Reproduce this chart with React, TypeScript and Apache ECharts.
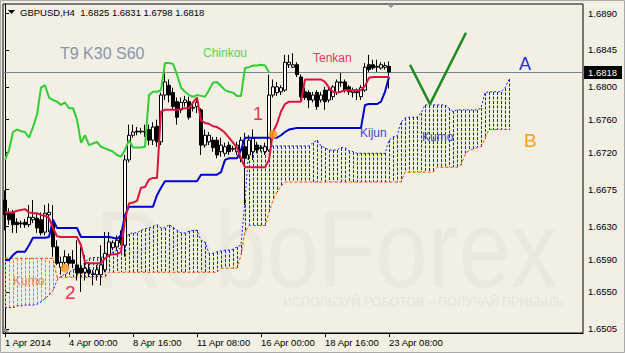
import React, { useEffect, useRef } from "react";
import * as echarts from "echarts";

const headerText = "GBPUSD,H4  1.6825 1.6831 1.6798 1.6818";
const tickLabels = ["1 Apr 2014", "4 Apr 00:00", "8 Apr 16:00", "11 Apr 08:00", "16 Apr 00:00", "18 Apr 16:00", "23 Apr 08:00"];
const tickBars = [0, 16, 32, 48, 64, 80, 96];
const priceTicks = [1.6505, 1.655, 1.659, 1.663, 1.6675, 1.672, 1.676, 1.68, 1.6845, 1.689];
const lastPrice = 1.6818;
const slotCount = 145;

const opens = [
  1.6662, 1.6647, 1.6646, 1.6635, 1.6634, 1.6635, 1.6632, 1.6638, 1.664, 1.6638,
  1.6623, 1.6644, 1.6635, 1.6605, 1.658, 1.6586, 1.6593, 1.6589, 1.6583, 1.6579,
  1.6574, 1.6577, 1.6571, 1.6571, 1.6571, 1.6577, 1.6595, 1.6604, 1.6605, 1.6617,
  1.6607, 1.6711, 1.6741, 1.6746, 1.6745, 1.6745, 1.6748, 1.6735, 1.6752, 1.6733,
  1.679, 1.6802, 1.6793, 1.6782, 1.6772, 1.6781, 1.6782, 1.6774, 1.6776, 1.6772,
  1.6729, 1.6733, 1.6735, 1.6735, 1.6721, 1.6719, 1.6729, 1.6724, 1.6721, 1.6713,
  1.6727, 1.6717, 1.6721, 1.6729, 1.6726, 1.6721, 1.6723, 1.679, 1.6793, 1.6794,
  1.6796, 1.6827, 1.6824, 1.6827, 1.6812, 1.6794, 1.6793, 1.6784, 1.6793, 1.6784,
  1.6796, 1.6784, 1.6788, 1.6793, 1.6806, 1.6806, 1.68, 1.6793, 1.6794, 1.6788,
  1.6796, 1.6827, 1.6827, 1.6824, 1.6823, 1.6824, 1.6825,
];
const closes = [
  1.6644, 1.6638, 1.6632, 1.6632, 1.6633, 1.6632, 1.6641, 1.6641, 1.6628, 1.6622,
  1.6646, 1.6647, 1.6605, 1.6585, 1.6586, 1.6593, 1.6585, 1.6585, 1.6573, 1.6573,
  1.6579, 1.6573, 1.6572, 1.6577, 1.6583, 1.6597, 1.6611, 1.661, 1.6613, 1.661,
  1.6711, 1.6741, 1.6745, 1.6745, 1.6746, 1.6746, 1.6735, 1.6751, 1.6733, 1.679,
  1.6806, 1.679, 1.6776, 1.6763, 1.6781, 1.6784, 1.6763, 1.6775, 1.6781, 1.6729,
  1.6741, 1.6741, 1.6726, 1.6717, 1.6729, 1.6727, 1.6721, 1.6725, 1.6729, 1.6735,
  1.6713, 1.6735, 1.6737, 1.6723, 1.6725, 1.6727, 1.679, 1.68, 1.68, 1.6799,
  1.683, 1.683, 1.6827, 1.6815, 1.6788, 1.6787, 1.6784, 1.679, 1.6776, 1.679,
  1.6782, 1.6796, 1.68, 1.6806, 1.6805, 1.6796, 1.6794, 1.6795, 1.6793, 1.6799,
  1.6824, 1.6821, 1.6823, 1.6825, 1.6827, 1.6826, 1.6818,
];
const highs = [
  1.6674, 1.6652, 1.665, 1.664, 1.6637, 1.6639, 1.6656, 1.6662, 1.6646, 1.6647,
  1.6656, 1.6658, 1.6656, 1.6613, 1.6593, 1.6601, 1.6597, 1.6601, 1.6613, 1.6605,
  1.6595, 1.6586, 1.6577, 1.6583, 1.6607, 1.6623, 1.6623, 1.6613, 1.6619, 1.6625,
  1.6717, 1.6754, 1.6754, 1.6751, 1.675, 1.6754, 1.6754, 1.6757, 1.676, 1.6793,
  1.6817, 1.6809, 1.6799, 1.6787, 1.6787, 1.6789, 1.6788, 1.6779, 1.6787, 1.6774,
  1.6748, 1.6745, 1.6739, 1.6739, 1.6738, 1.6732, 1.6733, 1.6728, 1.6733, 1.6739,
  1.6744, 1.6741, 1.6748, 1.6733, 1.6729, 1.6732, 1.6815, 1.6809, 1.6806, 1.6802,
  1.6839, 1.6839, 1.6841, 1.683, 1.6815, 1.6799, 1.6796, 1.6794, 1.6796, 1.6794,
  1.68, 1.6799, 1.6802, 1.6809, 1.6817, 1.6809, 1.6802, 1.6799, 1.6798, 1.6802,
  1.6829, 1.6839, 1.6833, 1.6833, 1.683, 1.683, 1.6831,
];
const lows = [
  1.6625, 1.6632, 1.6622, 1.6622, 1.6628, 1.6628, 1.6629, 1.6634, 1.6622, 1.6619,
  1.6619, 1.6623, 1.6593, 1.6583, 1.6571, 1.6583, 1.658, 1.6579, 1.6564, 1.655,
  1.6564, 1.6568, 1.6558, 1.6564, 1.6558, 1.6574, 1.6593, 1.6601, 1.6601, 1.6607,
  1.6593, 1.6708, 1.6738, 1.6741, 1.6743, 1.6739, 1.6729, 1.6729, 1.6727, 1.6729,
  1.6784, 1.6781, 1.6772, 1.6754, 1.6768, 1.6776, 1.676, 1.677, 1.6768, 1.6717,
  1.6726, 1.6729, 1.6721, 1.6713, 1.6715, 1.6715, 1.6717, 1.6721, 1.6717, 1.6708,
  1.6656, 1.6711, 1.6711, 1.6719, 1.6721, 1.6717, 1.6721, 1.6787, 1.6789, 1.679,
  1.6794, 1.6823, 1.6823, 1.6812, 1.6784, 1.6784, 1.6774, 1.6781, 1.6772, 1.6781,
  1.6772, 1.6781, 1.6784, 1.679, 1.68, 1.6793, 1.679, 1.6787, 1.6784, 1.6784,
  1.6794, 1.6818, 1.6821, 1.6818, 1.6821, 1.6821, 1.6798,
];

const tenkan = [
  1.6647, 1.6647, 1.6647, 1.6649, 1.665, 1.6651, 1.6647, 1.6646, 1.6646, 1.6644,
  1.6643, 1.664, 1.6628, 1.6618, 1.6617, 1.6617, 1.6617, 1.6617, 1.6617, 1.6607,
  1.6586, 1.6585, 1.6585, 1.6585, 1.6585, 1.6591, 1.6595, 1.6596, 1.6596, 1.6599,
  1.6638, 1.6658, 1.6659, 1.6661, 1.6677, 1.6678, 1.6687, 1.6689, 1.6689, 1.677,
  1.6772, 1.6772, 1.6772, 1.6772, 1.6773, 1.6774, 1.6774, 1.6781, 1.6787, 1.6759,
  1.6756, 1.6755, 1.6752, 1.6751, 1.6748, 1.6744, 1.6738, 1.6732, 1.6726, 1.6713,
  1.6702, 1.6702, 1.6702, 1.6702, 1.6702, 1.6702, 1.6711, 1.6745, 1.6755, 1.677,
  1.6779, 1.6782, 1.6782, 1.6782, 1.6782, 1.6809, 1.6809, 1.6809, 1.6809, 1.6809,
  1.6806, 1.6799, 1.6794, 1.6793, 1.6794, 1.6796, 1.6796, 1.6796, 1.6796, 1.6796,
  1.6801, 1.6811, 1.6812, 1.6812, 1.6812, 1.6812, 1.6812,
];
const kijun = [
  1.6589, 1.6589, 1.6595, 1.6599, 1.6599, 1.6599, 1.6607, 1.6616, 1.6616, 1.6616,
  1.6616, 1.6617, 1.6638, 1.6628, 1.6628, 1.6628, 1.6628, 1.6628, 1.6628, 1.6617,
  1.6617, 1.6617, 1.6617, 1.6617, 1.6617, 1.6617, 1.6617, 1.6616, 1.6615, 1.6619,
  1.6644, 1.6654, 1.6654, 1.6654, 1.6654, 1.6654, 1.6654, 1.6654, 1.6668, 1.6677,
  1.6685, 1.6685, 1.6685, 1.6685, 1.6685, 1.6685, 1.6685, 1.6685, 1.6685, 1.6693,
  1.6693, 1.6693, 1.6693, 1.6693, 1.6696, 1.6711, 1.6713, 1.6713, 1.6713, 1.6723,
  1.6738, 1.6738, 1.6738, 1.6738, 1.6738, 1.6738, 1.6738, 1.6738, 1.6738, 1.6741,
  1.6745, 1.6748, 1.6749, 1.675, 1.675, 1.675, 1.675, 1.675, 1.675, 1.675,
  1.675, 1.675, 1.675, 1.675, 1.675, 1.675, 1.675, 1.675, 1.675, 1.675,
  1.6778, 1.6779, 1.6779, 1.6779, 1.6782, 1.6794, 1.6812,
];
const chinkou = [
  1.6711, 1.6723, 1.6745, 1.6748, 1.6746, 1.6745, 1.6738, 1.6751, 1.6766, 1.6799,
  1.6802, 1.6787, 1.6784, 1.6782, 1.6778, 1.6781, 1.6774, 1.6774, 1.676, 1.6732,
  1.6741, 1.6729, 1.6731, 1.6733, 1.6727, 1.6725, 1.6723, 1.6721, 1.6717, 1.6715,
  1.6723, 1.6735, 1.6726, 1.6726, 1.6726, 1.6727, 1.679, 1.6794, 1.6794, 1.6796,
  1.6829, 1.6829, 1.6828, 1.6815, 1.6799, 1.6794, 1.679, 1.6788, 1.679, 1.6789,
  1.6788, 1.6796, 1.6805, 1.6806, 1.6801, 1.6796, 1.6794, 1.6793, 1.6789, 1.6789,
  1.6823, 1.6824, 1.6826, 1.6826, 1.6827, 1.6826, 1.6818,
];
const senkouA = [
  1.6531, 1.6531, 1.6531, 1.6533, 1.6533, 1.6534, 1.6534, 1.6534, 1.6535, 1.6538,
  1.6542, 1.6546, 1.6552, 1.6564, 1.6569, 1.6572, 1.6574, 1.6577, 1.6579, 1.6582,
  1.6586, 1.6591, 1.6592, 1.6592, 1.6592, 1.6594, 1.6595, 1.6599, 1.6601, 1.6604,
  1.6613, 1.6621, 1.6622, 1.6622, 1.6625, 1.6627, 1.6628, 1.663, 1.6632, 1.6628,
  1.6628, 1.6632, 1.6629, 1.6625, 1.6622, 1.6622, 1.6624, 1.6625, 1.6625, 1.6613,
  1.6611, 1.6597, 1.6597, 1.6599, 1.66, 1.6601, 1.6601, 1.6602, 1.6605, 1.6607,
  1.6662, 1.6727, 1.6728, 1.6728, 1.6728, 1.6728, 1.6728, 1.6728, 1.6728, 1.6728,
  1.6728, 1.6728, 1.6728, 1.6728, 1.6728, 1.6728, 1.6728, 1.6732, 1.6735, 1.6728,
  1.6726, 1.6723, 1.6723, 1.6723, 1.6726, 1.6726, 1.6722, 1.6721, 1.6719, 1.6719,
  1.6719, 1.6719, 1.6719, 1.6719, 1.6719, 1.6719, 1.6735, 1.6739, 1.674, 1.6757,
  1.6762, 1.6763, 1.6763, 1.6763, 1.6768, 1.6778, 1.6778, 1.6778, 1.6778, 1.6778,
  1.6778, 1.6774, 1.677, 1.6772, 1.6772, 1.6772, 1.6772, 1.6772, 1.6772, 1.6774,
  1.6793, 1.6794, 1.6794, 1.6794, 1.6794, 1.6799, 1.6809,
];
const senkouB = [
  1.6591, 1.6591, 1.6591, 1.6591, 1.6591, 1.6591, 1.6591, 1.6591, 1.6591, 1.6591,
  1.6591, 1.6591, 1.6591, 1.6568, 1.6568, 1.6568, 1.6568, 1.6568, 1.6568, 1.6568,
  1.6568, 1.6568, 1.6568, 1.6568, 1.6568, 1.6568, 1.6574, 1.6574, 1.6574, 1.6574,
  1.6574, 1.6574, 1.6574, 1.6574, 1.6574, 1.6574, 1.6574, 1.6574, 1.6574, 1.6574,
  1.6574, 1.6574, 1.6574, 1.6574, 1.6574, 1.6574, 1.6574, 1.6574, 1.6574, 1.6574,
  1.6574, 1.6574, 1.6574, 1.6574, 1.6579, 1.6579, 1.6579, 1.6579, 1.6579, 1.6595,
  1.6623, 1.6631, 1.6631, 1.6631, 1.6631, 1.6631, 1.6647, 1.6662, 1.6672, 1.6679,
  1.6684, 1.6684, 1.6684, 1.6684, 1.6684, 1.6684, 1.6684, 1.6684, 1.6684, 1.6684,
  1.6684, 1.6684, 1.6684, 1.6684, 1.6684, 1.6684, 1.6684, 1.6684, 1.6684, 1.6684,
  1.6684, 1.6684, 1.6684, 1.6684, 1.6684, 1.6684, 1.6684, 1.6684, 1.6684, 1.6684,
  1.6696, 1.6696, 1.6696, 1.6696, 1.6696, 1.6696, 1.6696, 1.6696, 1.6702, 1.6702,
  1.6702, 1.6702, 1.6702, 1.6702, 1.6705, 1.6717, 1.6723, 1.6724, 1.6726, 1.6727,
  1.6737, 1.6748, 1.6748, 1.6748, 1.6748, 1.6748, 1.6748,
];

const markerBars = [15, 67];
const markerPrices = [1.6579, 1.6742];
const forecastBars = [101.25, 106.25, 115.25];
const forecastPrices = [1.6827, 1.6779, 1.6866];

const FONT = '"Liberation Sans", Arial, sans-serif';

export default function App() {
  const ref = useRef<HTMLDivElement>(null);
  useEffect(() => {
    document.body.style.margin = "0";
    const chart = echarts.init(ref.current!, null, { renderer: "svg" });
    const categories = Array.from({ length: slotCount }, (_, i) => String(i));
    const candleData = opens.map((o, i) => [o, closes[i], lows[i], highs[i]]);
    const cloudData = senkouA.map((a, i) => [i, a, senkouB[i]]);
    const txt = (text: string, x: number, y: number, size: number, fill: string, extra: any = {}) => ({
      type: "text",
      x,
      y,
      z: 100,
      silent: true,
      ...extra,
      style: { text, fill, font: `${size}px ${FONT}`, textVerticalAlign: "middle", verticalAlign: "middle" },
    });

    const baseGraphic: any[] = [
      { type: "rect", z: 0, silent: true, shape: { x: 0.5, y: 0.5, width: 624, height: 352 }, style: { fill: "none", stroke: "#a9a9a9", lineWidth: 1 } },
      {
        type: "text",
        x: 95,
        y: 249,
        z: 0,
        scaleX: 0.85,
        silent: true,
        style: { text: "RoboForex", fill: "#e9e9df", font: `110px ${FONT}`, textVerticalAlign: "middle", verticalAlign: "middle" },
      },
      {
        type: "text",
        x: 283,
        y: 302,
        z: 0,
        silent: true,
        style: { text: "ИСПОЛЬЗУЙ РОБОТОВ – ПОЛУЧАЙ ПРИБЫЛЬ", fill: "#e4e4d9", font: `12.5px ${FONT}`, textVerticalAlign: "middle", verticalAlign: "middle" },
      },
      { type: "polygon", z: 100, silent: true, shape: { points: [[8, 10], [15, 10], [11.5, 14]] }, style: { fill: "#000" } },
      txt(headerText, 20, 12, 9.5, "#000"),
      { type: "polygon", z: 100, silent: true, shape: { points: [[387, 4], [395, 4], [391, 8]] }, style: { fill: "#8f949c" } },
      { type: "polygon", z: 100, silent: true, shape: { points: [[4, 332], [4, 327], [9, 332]] }, style: { fill: "#8f949c" } },
      txt("T9 K30 S60", 60, 53, 16, "#8a95aa"),
      txt("Chinkou", 203, 53, 12, "#5cd05c"),
      txt("Tenkan", 313, 58, 12, "#e3356a"),
      txt("Kijun", 360, 133, 12, "#4b3fd6"),
      txt("Kumo", 422, 137, 12, "#4a3cd6"),
      txt("Kumo", 13, 281, 12, "#e8875a"),
      txt("1", 253, 114, 18, "#e8345a"),
      txt("2", 65, 292, 19, "#e8345a"),
      txt("A", 519, 64, 18, "#2b2bd0"),
      txt("B", 524, 140, 19, "#f7a21b"),
    ];

    const option: any = {
      animation: false,
      backgroundColor: "#f2efe4",
      textStyle: { fontFamily: FONT },
      grid: { left: 3, right: 42, top: 4, bottom: 20, show: true, borderColor: "#000", borderWidth: 1, backgroundColor: "transparent" },
      xAxis: [
        {
          type: "category",
          data: categories,
          boundaryGap: true,
          axisLine: { show: true, lineStyle: { color: "#000", width: 1 } },
          axisTick: {
            show: true,
            alignWithLabel: true,
            length: 4,
            interval: (i: number) => tickBars.includes(i),
            lineStyle: { color: "#000" },
          },
          axisLabel: {
            interval: (i: number) => tickBars.includes(i),
            formatter: (_v: string, i: number) => {
              const k = tickBars.indexOf(i);
              return k >= 0 ? tickLabels[k] : "";
            },
            align: "left",
            color: "#000",
            fontSize: 9.5,
            fontFamily: FONT,
            margin: 4,
          },
          splitLine: { show: false },
        },
        { type: "value", min: -0.5, max: slotCount - 0.5, show: false },
      ],
      yAxis: {
        type: "value",
        position: "right",
        min: 1.65,
        max: 1.6901,
        axisLine: { show: true, lineStyle: { color: "#000" } },
        axisTick: { show: true, inside: false, length: 4, customValues: priceTicks, lineStyle: { color: "#000" } },
        axisLabel: {
          customValues: priceTicks,
          formatter: (v: number) => v.toFixed(4),
          color: "#000",
          fontSize: 9.5,
          fontFamily: FONT,
          margin: 5,
          hideOverlap: false,
        },
        splitLine: { show: false },
      },
      series: [
        {
          type: "custom",
          name: "cloud",
          silent: true,
          z: 1,
          encode: { x: 0, y: [1, 2] },
          data: cloudData,
          renderItem: (_params: any, api: any) => {
            const i = api.value(0);
            const a = api.value(1);
            const b = api.value(2);
            const p1 = api.coord([i, a]);
            const p2 = api.coord([i, b]);
            return {
              type: "line",
              shape: { x1: Math.round(p1[0]) + 0.5, y1: Math.round(p1[1]), x2: Math.round(p2[0]) + 0.5, y2: Math.round(p2[1]) },
              style: { stroke: a >= b ? "#1a1aff" : "#f07a48", lineWidth: 1, lineDash: [3, 1.5] },
            };
          },
        },
        {
          type: "line",
          name: "Senkou A",
          data: senkouA,
          showSymbol: false,
          silent: true,
          z: 2,
          lineStyle: { color: "#1a1aff", width: 1, type: [2, 2] },
        },
        {
          type: "line",
          name: "Senkou B",
          data: senkouB,
          showSymbol: false,
          silent: true,
          z: 2,
          lineStyle: { color: "#ff4a00", width: 1, type: [3, 2] },
        },
        {
          type: "candlestick",
          data: candleData,
          barWidth: 3,
          z: 3,
          itemStyle: { color: "#ffffff", color0: "#000000", borderColor: "#000000", borderColor0: "#000000", borderWidth: 1 },
        },
        { type: "line", name: "Kijun", data: kijun, showSymbol: false, silent: true, z: 4, lineStyle: { color: "#0000cd", width: 2 } },
        { type: "line", name: "Tenkan", data: tenkan, showSymbol: false, silent: true, z: 5, lineStyle: { color: "#dc143c", width: 2 } },
        { type: "line", name: "Chinkou", data: chinkou, showSymbol: false, silent: true, z: 5, lineStyle: { color: "#32cd32", width: 2 } },
        {
          type: "scatter",
          data: markerBars.map((b, i) => [b, markerPrices[i]]),
          symbolSize: 9,
          silent: true,
          z: 6,
          itemStyle: { color: "#ff9a1a" },
        },
        {
          type: "line",
          xAxisIndex: 1,
          data: forecastBars.map((b, i) => [b, forecastPrices[i]]),
          showSymbol: false,
          silent: true,
          z: 6,
          lineStyle: { color: "#1f8a1f", width: 2.5 },
        },
      ],
      graphic: baseGraphic,
    };
    chart.setOption(option);

    // current-price line and label, placed through the y axis scale
    const py = Math.round(chart.convertToPixel({ yAxisIndex: 0 }, lastPrice) as number) + 0.5;
    const extra = [
      { type: "line", z: 2, silent: true, shape: { x1: 3, y1: py, x2: 583, y2: py }, style: { stroke: "#7c848d", lineWidth: 1 } },
      { type: "rect", z: 100, silent: true, shape: { x: 584, y: py - 6.5, width: 38, height: 13 }, style: { fill: "#000" } },
      {
        type: "text",
        z: 101,
        silent: true,
        x: 588,
        y: py,
        style: { text: lastPrice.toFixed(4), fill: "#fff", font: `9.5px ${FONT}`, textVerticalAlign: "middle", verticalAlign: "middle" },
      },
    ];
    chart.setOption({ graphic: [...baseGraphic, ...extra] });
    return () => chart.dispose();
  }, []);
  return <div ref={ref} style={{ position: "absolute", left: 0, top: 0, width: 625, height: 353 }} />;
}
